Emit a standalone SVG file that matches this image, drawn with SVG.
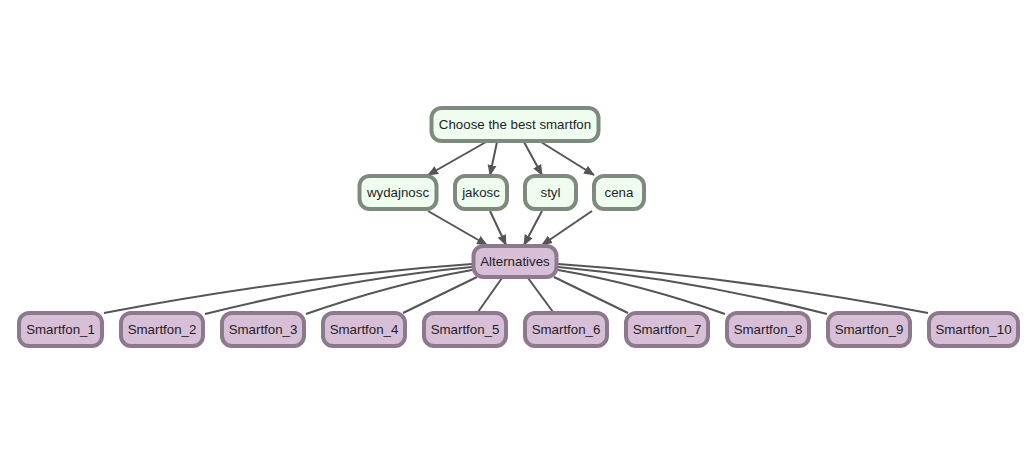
<svg xmlns="http://www.w3.org/2000/svg" width="1036" height="452" viewBox="0 0 1036 452">
<style>
.g rect{fill:#effdef;stroke:#7f8a7f;stroke-width:4}
.p rect{fill:#d8bfd8;stroke:#8c7a8c;stroke-width:4}
text{font-family:"Liberation Sans",Arial,sans-serif;font-size:13.3px;fill:#1e1e1e;text-anchor:middle}
.e path,.e line{stroke:#555;stroke-width:2;fill:none}
</style>
<defs>
<marker id="ah" markerUnits="userSpaceOnUse" markerWidth="12" markerHeight="10" refX="10" refY="5" orient="auto">
<path d="M0,0.5 L11,5 L0,9.5 Z" fill="#555"/>
</marker>
</defs>
<g id="connectors" class="e">
<line x1="486" y1="142" x2="428" y2="175" marker-end="url(#ah)"/>
<line x1="497" y1="142" x2="490" y2="175" marker-end="url(#ah)"/>
<line x1="524" y1="142" x2="542" y2="175" marker-end="url(#ah)"/>
<line x1="541" y1="142" x2="594" y2="175" marker-end="url(#ah)"/>
<line x1="428" y1="211" x2="487" y2="245" marker-end="url(#ah)"/>
<line x1="490" y1="211" x2="506" y2="245" marker-end="url(#ah)"/>
<line x1="542" y1="211" x2="524" y2="245" marker-end="url(#ah)"/>
<line x1="592" y1="211" x2="542" y2="245" marker-end="url(#ah)"/>
<path d="M472,264 Q300,276 104,313"/>
<path d="M472,267 Q345,279 205,314"/>
<path d="M472,270 Q392,284 306,314"/>
<path d="M477,277 L403,313"/>
<path d="M502,278 L478,312"/>
<path d="M528,278 L553,312"/>
<path d="M554,277 L628,313"/>
<path d="M558,270 Q640,284 725,314"/>
<path d="M558,267 Q690,279 827,314"/>
<path d="M558,264 Q732,276 928,313"/>
</g>
<g id="goal" class="g"><rect x="431.5" y="108" width="167" height="33" rx="10"/><text x="515" y="129">Choose the best smartfon</text></g>
<g id="wydajnosc" class="g"><rect x="359.5" y="176" width="77" height="33" rx="10"/><text x="398" y="197">wydajnosc</text></g>
<g id="jakosc" class="g"><rect x="455" y="176" width="52" height="33" rx="10"/><text x="481" y="197">jakosc</text></g>
<g id="styl" class="g"><rect x="525" y="176" width="51" height="33" rx="10"/><text x="550.5" y="197">styl</text></g>
<g id="cena" class="g"><rect x="594" y="176" width="50" height="33" rx="10"/><text x="619" y="197">cena</text></g>
<g id="alternatives" class="p"><rect x="473.5" y="246" width="83" height="31" rx="10"/><text x="515" y="266">Alternatives</text></g>
<g id="smartfon_1" class="p"><rect x="19" y="313" width="83" height="33" rx="10"/><text x="60.5" y="334">Smartfon_1</text></g>
<g id="smartfon_2" class="p"><rect x="121" y="313" width="82" height="33" rx="10"/><text x="162" y="334">Smartfon_2</text></g>
<g id="smartfon_3" class="p"><rect x="222" y="313" width="82" height="33" rx="10"/><text x="263" y="334">Smartfon_3</text></g>
<g id="smartfon_4" class="p"><rect x="323" y="313" width="82" height="33" rx="10"/><text x="364" y="334">Smartfon_4</text></g>
<g id="smartfon_5" class="p"><rect x="424" y="313" width="82" height="33" rx="10"/><text x="465" y="334">Smartfon_5</text></g>
<g id="smartfon_6" class="p"><rect x="525" y="313" width="82" height="33" rx="10"/><text x="566" y="334">Smartfon_6</text></g>
<g id="smartfon_7" class="p"><rect x="626" y="313" width="82" height="33" rx="10"/><text x="667" y="334">Smartfon_7</text></g>
<g id="smartfon_8" class="p"><rect x="727" y="313" width="82" height="33" rx="10"/><text x="768" y="334">Smartfon_8</text></g>
<g id="smartfon_9" class="p"><rect x="828" y="313" width="82" height="33" rx="10"/><text x="869" y="334">Smartfon_9</text></g>
<g id="smartfon_10" class="p"><rect x="929" y="313" width="89" height="33" rx="10"/><text x="973.5" y="334">Smartfon_10</text></g>
</svg>
